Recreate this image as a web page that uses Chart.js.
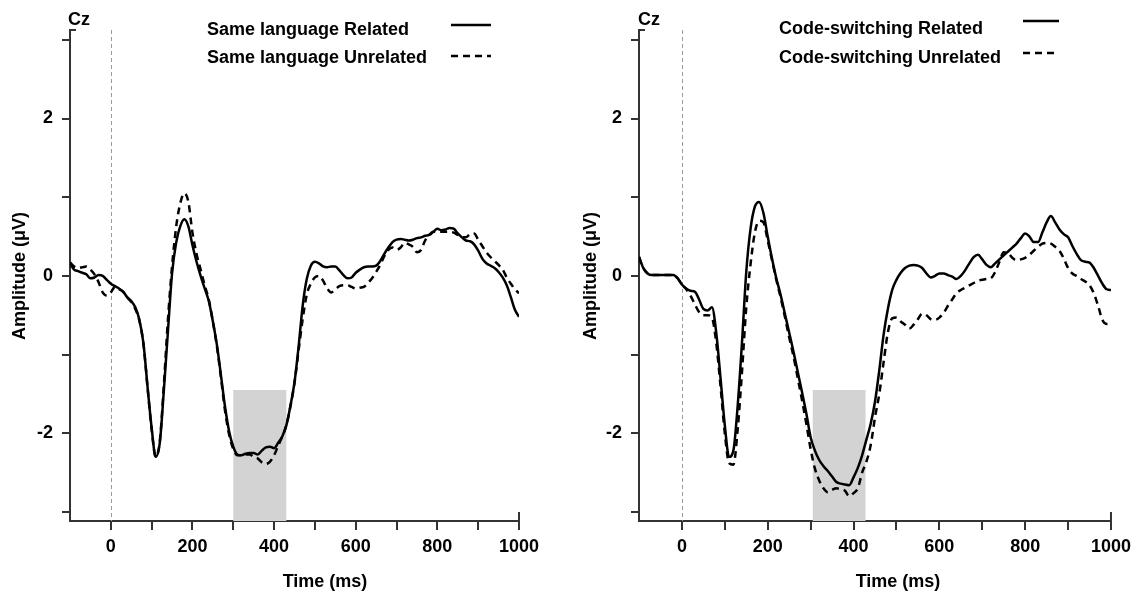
<!DOCTYPE html>
<html>
<head>
<meta charset="utf-8">
<title>ERP Cz</title>
<script src="https://cdn.jsdelivr.net/npm/chart.js@4"></script>
<style>
  body { margin: 0; background: #fff; }
  #wrap { position: relative; width: 1137px; height: 594px; }
  canvas { position: absolute; top: 0; }
  #cLeft { left: 0; }
  #cRight { left: 568px; }
</style>
</head>
<body>
<div id="wrap">
  <canvas id="cLeft" width="568" height="594"></canvas>
  <canvas id="cRight" width="569" height="594"></canvas>
</div>
<script>
// Time axis (ms), one sample every 10 ms
const times = [
  -100, -90, -80, -70, -60, -50, -40, -30, -20, -10,
  0, 10, 20, 30, 40, 50, 60, 70, 80, 90,
  100, 110, 120, 130, 140, 150, 160, 170, 180, 190,
  200, 210, 220, 230, 240, 250, 260, 270, 280, 290,
  300, 310, 320, 330, 340, 350, 360, 370, 380, 390,
  400, 410, 420, 430, 440, 450, 460, 470, 480, 490,
  500, 510, 520, 530, 540, 550, 560, 570, 580, 590,
  600, 610, 620, 630, 640, 650, 660, 670, 680, 690,
  700, 710, 720, 730, 740, 750, 760, 770, 780, 790,
  800, 810, 820, 830, 840, 850, 860, 870, 880, 890,
  900, 910, 920, 930, 940, 950, 960, 970, 980, 990,
  1000
];

// amplitudes (µV)
const sameRelated = [
  0.16, 0.08, 0.06, 0.04, 0.02, -0.03, -0.02, 0.01, 0.00, -0.05,
  -0.10, -0.13, -0.16, -0.20, -0.27, -0.32, -0.40, -0.56, -0.86, -1.41,
  -1.93, -2.30, -2.12, -1.45, -0.70, 0.03, 0.42, 0.63, 0.72, 0.63,
  0.39, 0.18, 0.00, -0.16, -0.32, -0.58, -0.88, -1.27, -1.67, -1.98,
  -2.17, -2.27, -2.28, -2.26, -2.25, -2.25, -2.27, -2.22, -2.18, -2.17,
  -2.19, -2.12, -2.04, -1.90, -1.65, -1.35, -0.90, -0.38, -0.04, 0.13,
  0.18, 0.16, 0.12, 0.11, 0.12, 0.12, 0.07, 0.01, -0.03, -0.02,
  0.04, 0.08, 0.11, 0.12, 0.12, 0.13, 0.19, 0.28, 0.36, 0.43,
  0.46, 0.47, 0.46, 0.45, 0.46, 0.48, 0.49, 0.51, 0.52, 0.56,
  0.60, 0.58, 0.59, 0.61, 0.60, 0.54, 0.49, 0.45, 0.44, 0.40,
  0.32, 0.22, 0.16, 0.13, 0.10, 0.05, -0.02, -0.12, -0.27, -0.43,
  -0.52
];
const sameUnrelated = [
  0.17, 0.12, 0.10, 0.11, 0.12, 0.08, 0.02, -0.08, -0.21, -0.25,
  -0.21, -0.14, -0.17, -0.20, -0.27, -0.33, -0.42, -0.57, -0.87, -1.42,
  -1.95, -2.30, -2.10, -1.38, -0.55, 0.12, 0.62, 0.92, 1.05, 0.94,
  0.55, 0.28, 0.08, -0.12, -0.30, -0.58, -0.90, -1.30, -1.72, -2.02,
  -2.20, -2.28, -2.28, -2.27, -2.27, -2.30, -2.32, -2.37, -2.39, -2.36,
  -2.28, -2.16, -2.04, -1.90, -1.66, -1.36, -0.95, -0.55, -0.24, -0.10,
  -0.02, 0.00, -0.06, -0.16, -0.21, -0.17, -0.13, -0.12, -0.12, -0.14,
  -0.16, -0.15, -0.14, -0.09, -0.03, 0.05, 0.14, 0.25, 0.33, 0.36,
  0.33, 0.36, 0.42, 0.40, 0.37, 0.30, 0.33, 0.45, 0.52, 0.56,
  0.56, 0.56, 0.56, 0.56, 0.55, 0.52, 0.49, 0.49, 0.53, 0.54,
  0.46, 0.38, 0.30, 0.24, 0.19, 0.14, 0.08, -0.02, -0.10, -0.17,
  -0.22
];
const switchRelated = [
  0.24, 0.10, 0.03, 0.01, 0.01, 0.01, 0.01, 0.01, 0.01, -0.03,
  -0.11, -0.16, -0.19, -0.20, -0.30, -0.42, -0.44, -0.40, -0.72, -1.30,
  -1.90, -2.30, -2.22, -1.65, -0.85, 0.05, 0.60, 0.88, 0.94, 0.80,
  0.50, 0.22, -0.03, -0.24, -0.48, -0.72, -0.96, -1.22, -1.48, -1.75,
  -2.05, -2.22, -2.34, -2.42, -2.48, -2.55, -2.62, -2.64, -2.65, -2.66,
  -2.56, -2.44, -2.28, -2.08, -1.88, -1.60, -1.20, -0.75, -0.42, -0.18,
  -0.05, 0.04, 0.10, 0.13, 0.14, 0.13, 0.10, 0.03, -0.02, 0.00,
  0.03, 0.03, 0.01, -0.01, -0.04, 0.00, 0.07, 0.16, 0.24, 0.27,
  0.21, 0.14, 0.11, 0.16, 0.21, 0.26, 0.31, 0.36, 0.41, 0.48,
  0.54, 0.50, 0.43, 0.43, 0.55, 0.68, 0.76, 0.68, 0.59, 0.53,
  0.49, 0.38, 0.28, 0.20, 0.18, 0.17, 0.10, 0.00, -0.10, -0.17,
  -0.18
];
const switchUnrelated = [
  0.24, 0.10, 0.03, 0.01, 0.01, 0.01, 0.01, 0.01, 0.01, -0.03,
  -0.11, -0.17, -0.25, -0.36, -0.46, -0.50, -0.50, -0.53, -0.85, -1.40,
  -2.00, -2.38, -2.40, -1.95, -1.22, -0.40, 0.15, 0.55, 0.70, 0.68,
  0.45, 0.20, -0.05, -0.27, -0.52, -0.78, -1.02, -1.30, -1.58, -1.88,
  -2.20, -2.45, -2.60, -2.70, -2.75, -2.72, -2.70, -2.71, -2.73, -2.80,
  -2.76, -2.70, -2.50, -2.36, -2.15, -1.80, -1.50, -1.10, -0.72, -0.54,
  -0.53, -0.58, -0.62, -0.67, -0.62, -0.55, -0.48, -0.50, -0.55, -0.56,
  -0.53, -0.47, -0.38, -0.30, -0.22, -0.18, -0.15, -0.12, -0.09, -0.06,
  -0.05, -0.04, -0.03, 0.05, 0.18, 0.30, 0.29, 0.23, 0.20, 0.21,
  0.23, 0.27, 0.32, 0.37, 0.41, 0.42, 0.41, 0.37, 0.32, 0.22,
  0.10, 0.03, 0.00, -0.04, -0.07, -0.12, -0.22, -0.38, -0.56, -0.61,
  -0.61
];

// axes
const xTicks = [0, 100, 200, 300, 400, 500, 600, 700, 800, 900, 1000];
const xLabeled = [0, 200, 400, 600, 800, 1000];
const yTicks = [-3, -2, -1, 0, 1, 2, 3];
const yLabeled = [-2, 0, 2];

// shaded analysis windows (ms) and the top of the shading (µV)
const leftWindow = [300, 430];
const rightWindow = [305, 428];
const windowTop = -1.45;

const FONT = "'Liberation Sans', Arial, Helvetica, sans-serif";
const AXIS = '#333';

// draws everything around the plot that is not a dataset
function panelDecor(opt) {
  return {
    id: 'decor',
    beforeDatasetsDraw(chart) {
      const c = chart.ctx, a = chart.chartArea;
      const xs = chart.scales.x, ys = chart.scales.y;
      c.save();
      c.fillStyle = '#d3d3d3';
      const x0 = xs.getPixelForValue(opt.win[0]);
      const x1 = xs.getPixelForValue(opt.win[1]);
      const yt = ys.getPixelForValue(windowTop);
      c.fillRect(x0, yt, x1 - x0, a.bottom - yt);
      // stimulus onset
      const xz = Math.round(xs.getPixelForValue(0)) + 0.5;
      c.strokeStyle = '#9a9a9a';
      c.lineWidth = 1;
      c.setLineDash([4, 3]);
      c.beginPath();
      c.moveTo(xz, a.top);
      c.lineTo(xz, a.bottom);
      c.stroke();
      c.restore();
    },
    afterDraw(chart) {
      const c = chart.ctx, a = chart.chartArea;
      const xs = chart.scales.x;
      c.save();
      c.strokeStyle = AXIS;
      c.lineWidth = 2;
      c.beginPath();
      c.moveTo(a.left, a.top);
      c.lineTo(a.left + 6, a.top);
      const xe = xs.getPixelForValue(1000);
      c.moveTo(xe, a.bottom);
      c.lineTo(xe, a.bottom - 9);
      c.stroke();

      c.fillStyle = '#000';
      c.font = 'bold 18px ' + FONT;
      c.textAlign = 'left';
      c.textBaseline = 'alphabetic';
      c.fillText('Cz', opt.czX, 25);

      // legend: text then line sample
      chart.data.datasets.forEach((ds, i) => {
        c.fillText(ds.label, opt.legX, opt.legBase[i]);
        c.setLineDash(ds.borderDash || []);
        c.lineWidth = 2.5;
        c.strokeStyle = '#000';
        c.beginPath();
        c.moveTo(opt.lineX[0], opt.lineY[i]);
        c.lineTo(opt.lineX[1], opt.lineY[i]);
        c.stroke();
      });
      c.setLineDash([]);

      c.textAlign = 'center';
      c.textBaseline = 'middle';
      c.fillText('Time (ms)', opt.xTitleX, 582);
      c.translate(opt.yTitleX, 276);
      c.rotate(-Math.PI / 2);
      c.fillText('Amplitude (\u03bcV)', 0, 0);
      c.restore();
    }
  };
}

function makePanel(id, labels, series, rightPad, opt) {
  const dashes = [[], [7, 5]];
  new Chart(document.getElementById(id), {
    type: 'line',
    data: {
      datasets: series.map((vals, i) => ({
        label: labels[i],
        data: times.map((t, k) => ({ x: t, y: vals[k] })),
        borderColor: '#000',
        borderWidth: 2.5,
        borderDash: dashes[i],
        pointRadius: 0,
        cubicInterpolationMode: 'monotone',
        fill: false
      }))
    },
    options: {
      responsive: false,
      animation: false,
      devicePixelRatio: 1,
      layout: { padding: { left: 0, right: rightPad, top: 30, bottom: 0 } },
      plugins: { legend: { display: false }, tooltip: { enabled: false } },
      scales: {
        x: {
          type: 'linear',
          min: -100,
          max: 1000,
          afterBuildTicks: s => { s.ticks = xTicks.map(v => ({ value: v })); },
          afterFit: s => { s.height = 594 - 521; },
          grid: { drawOnChartArea: false, tickLength: 9, color: AXIS, lineWidth: 2 },
          border: { display: true, color: AXIS, width: 2 },
          ticks: {
            autoSkip: false, maxRotation: 0, padding: 6, color: '#000',
            font: { family: FONT, size: 18, weight: 'bold' },
            callback: v => xLabeled.includes(v) ? String(v) : ''
          }
        },
        y: {
          min: -3.115,
          max: 3.125,
          afterBuildTicks: s => { s.ticks = yTicks.map(v => ({ value: v })); },
          afterFit: s => { s.width = opt.axisX; },
          grid: { drawOnChartArea: false, tickLength: 8, color: AXIS, lineWidth: 2 },
          border: { display: true, color: AXIS, width: 2 },
          ticks: {
            autoSkip: false, padding: 9, color: '#000',
            font: { family: FONT, size: 18, weight: 'bold' },
            callback: v => yLabeled.includes(v) ? String(v) : ''
          }
        }
      }
    },
    plugins: [panelDecor(opt)]
  });
}

makePanel('cLeft',
  ['Same language Related', 'Same language Unrelated'],
  [sameRelated, sameUnrelated],
  49,
  { axisX: 70, win: leftWindow, czX: 68, legX: 207, legBase: [35, 63],
    lineX: [451, 491], lineY: [25, 56], xTitleX: 325, yTitleX: 20 });

makePanel('cRight',
  ['Code-switching Related', 'Code-switching Unrelated'],
  [switchRelated, switchUnrelated],
  25,
  { axisX: 71, win: rightWindow, czX: 70, legX: 211, legBase: [34, 63],
    lineX: [455, 491], lineY: [21, 53], xTitleX: 330, yTitleX: 23 });
</script>
</body>
</html>
